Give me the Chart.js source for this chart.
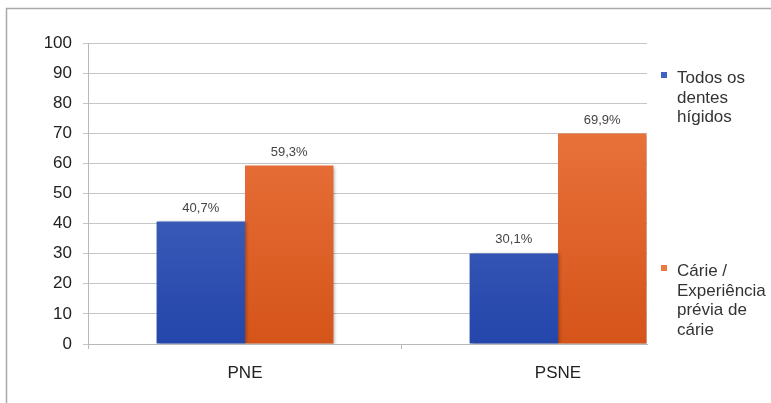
<!DOCTYPE html>
<html>
<head>
<meta charset="utf-8">
<script src="https://cdn.jsdelivr.net/npm/chart.js@4.4.1/dist/chart.umd.min.js"></script>
<style>
  body { margin: 0; background: #fff; }
  canvas { display: block; }
</style>
</head>
<body>
<canvas id="chart" width="771" height="403"></canvas>
<script>
// data
const categories = ['PNE', 'PSNE'];
const todosHigidos = [40.7, 30.1];
const carieExperiencia = [59.3, 69.9];
const seriesNames = [
    ['Todos os', 'dentes', 'hígidos'],
    ['Cárie /', 'Experiência', 'prévia de', 'cárie']
];
const yMin = 0, yMax = 100, yStep = 10;

const FONT = "'Liberation Sans', Arial, sans-serif";
const blueTop = '#5677c9', blueBottom = '#2445aa';
const orangeTop = '#f07d48', orangeBottom = '#d5541a';

function gradient(context, top, bottom) {
    const area = context.chart.chartArea;
    if (!area) return bottom;
    const g = context.chart.ctx.createLinearGradient(0, area.top, 0, area.bottom);
    g.addColorStop(0, top);
    g.addColorStop(1, bottom);
    return g;
}

function fmt(v) {
    return v.toFixed(1).replace('.', ',') + '%';
}

// outer frame of the figure
const framePlugin = {
    id: 'frame',
    beforeDraw(chart) {
        const ctx = chart.ctx;
        ctx.save();
        ctx.fillStyle = '#fff';
        ctx.fillRect(0, 0, chart.width, chart.height);
        ctx.strokeStyle = '#a9a9a9';
        ctx.lineWidth = 1.5;
        ctx.strokeRect(6.5, 8.5, chart.width + 20, chart.height + 20);
        ctx.restore();
    }
};

// soft shadow under the bars
const shadowPlugin = {
    id: 'barShadow',
    beforeDatasetDraw(chart) {
        const ctx = chart.ctx;
        ctx.save();
        ctx.shadowColor = 'rgba(0,0,0,0.3)';
        ctx.shadowBlur = 3;
        ctx.shadowOffsetX = 2;
        ctx.shadowOffsetY = 1;
    },
    afterDatasetDraw(chart) {
        chart.ctx.restore();
    }
};

// percentage labels above the bars
const valueLabels = {
    id: 'valueLabels',
    afterDatasetsDraw(chart) {
        const ctx = chart.ctx;
        ctx.save();
        ctx.font = '13px ' + FONT;
        ctx.fillStyle = '#444';
        ctx.textAlign = 'center';
        ctx.textBaseline = 'bottom';
        chart.data.datasets.forEach((ds, i) => {
            chart.getDatasetMeta(i).data.forEach((bar, j) => {
                ctx.fillText(fmt(ds.data[j]), bar.x, bar.y - 7);
            });
        });
        ctx.restore();
    }
};

// legend on the right with wrapped names
const sideLegend = {
    id: 'sideLegend',
    afterDraw(chart) {
        const ctx = chart.ctx;
        const x = 661, lineH = 19.5;
        const firstBaselines = [83, 276];
        ctx.save();
        ctx.font = '17px ' + FONT;
        ctx.textBaseline = 'alphabetic';
        ctx.textAlign = 'left';
        chart.data.datasets.forEach((ds, i) => {
            const base = firstBaselines[i];
            ctx.fillStyle = ds.legendColor;
            ctx.fillRect(x, base - 11, 6, 6);
            ctx.fillStyle = '#333';
            seriesNames[i].forEach((line, k) => {
                ctx.fillText(line, x + 16, base + k * lineH);
            });
        });
        ctx.restore();
    }
};

new Chart(document.getElementById('chart'), {
    type: 'bar',
    data: {
        labels: categories,
        datasets: [{
            label: seriesNames[0].join(' '),
            data: todosHigidos,
            legendColor: '#3f63c4',
            backgroundColor: ctx => gradient(ctx, blueTop, blueBottom),
            borderWidth: 0
        }, {
            label: seriesNames[1].join(' '),
            data: carieExperiencia,
            legendColor: '#ee7a42',
            backgroundColor: ctx => gradient(ctx, orangeTop, orangeBottom),
            borderWidth: 0
        }]
    },
    options: {
        responsive: false,
        animation: false,
        devicePixelRatio: 1,
        layout: {
            padding: { top: 43, right: 124, left: 0, bottom: 0 }
        },
        datasets: {
            bar: {
                categoryPercentage: 0.565,
                barPercentage: 1
            }
        },
        plugins: {
            legend: { display: false },
            tooltip: { enabled: false }
        },
        scales: {
            x: {
                afterFit(scale) { scale.height = 59; },
                afterBuildTicks(scale) {
                    // the plot is cut off on the right, just past the last bar
                    scale._startValue = -0.5016;
                    scale._valueRange = 1.7859;
                },
                grid: {
                    drawOnChartArea: false,
                    tickLength: 5,
                    color: '#b8b8b8'
                },
                border: { color: '#b8b8b8' },
                ticks: {
                    color: '#222',
                    font: { family: FONT, size: 17 },
                    padding: 14
                }
            },
            y: {
                min: yMin,
                max: yMax,
                afterFit(scale) { scale.width = 88; },
                grid: {
                    color: '#c6c6c6',
                    tickLength: 5
                },
                border: { color: '#b8b8b8' },
                ticks: {
                    stepSize: yStep,
                    color: '#222',
                    font: { family: FONT, size: 17 },
                    padding: 11
                }
            }
        }
    },
    plugins: [framePlugin, shadowPlugin, valueLabels, sideLegend]
});
</script>
</body>
</html>
